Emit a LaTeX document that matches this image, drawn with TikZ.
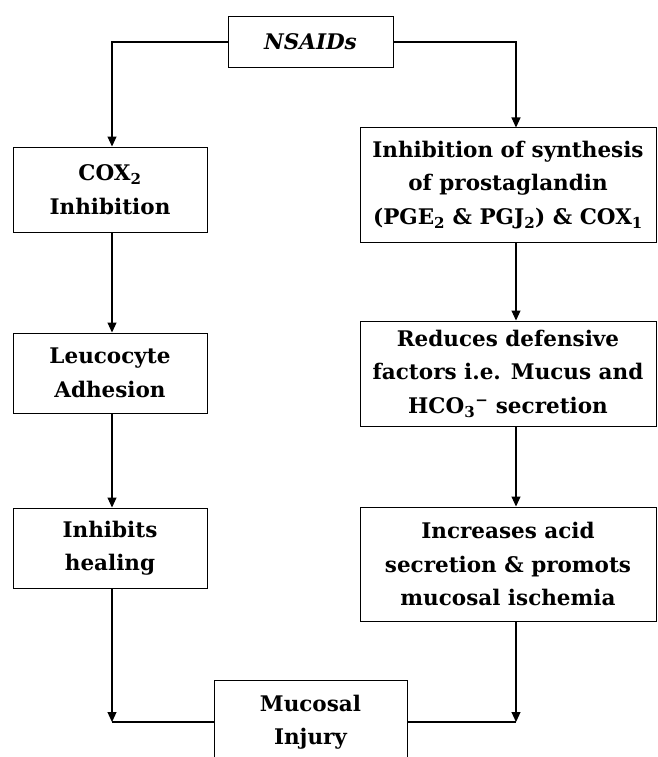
\documentclass[tikz,border=0pt]{standalone}
\usepackage{fontspec}
\setmainfont{DejaVu Serif}
\usetikzlibrary{arrows.meta}
\begin{document}
\begin{tikzpicture}[x=1pt,y=-1pt,
  box/.style={draw, line width=1pt, inner sep=0pt, align=center,
    font=\fontsize{21.5}{33.5}\selectfont\bfseries},
  conn/.style={line width=1.1pt},
  arr/.style={conn, -{Triangle[length=10pt,width=9pt]}}]
\useasboundingbox (0,0) rectangle (657,757);
\clip (0,0) rectangle (657,757);
\fill[white] (0,0) rectangle (657,757);
\coordinate (xl) at (112,0);
\coordinate (xr) at (516,0);
\node[box, minimum width=165pt, minimum height=51pt] (nsaid) at (310.5,42) {\itshape NSAIDs};
\node[box, minimum width=194pt, minimum height=85pt] (cox) at (110,189.5) {COX\textsubscript{2}\\Inhibition};
\node[box, minimum width=194pt, minimum height=80pt] (leu) at (110,373) {Leucocyte\\Adhesion};
\node[box, minimum width=194pt, minimum height=80pt] (heal) at (110,548) {Inhibits\\healing};
\node[box, minimum width=296pt, minimum height=114pt] (inh) at (508,185) {Inhibition of synthesis\\of prostaglandin\\(PGE\textsubscript{2} \& PGJ\textsubscript{2}) \& COX\textsubscript{1}};
\node[box, minimum width=296pt, minimum height=105pt] (red) at (508,373.5) {Reduces defensive\\factors i.e. Mucus and\\HCO\textsubscript{3}\textsuperscript{−} secretion};
\node[box, minimum width=296pt, minimum height=114pt] (acid) at (508,564) {Increases acid\\secretion \& promots\\mucosal ischemia};
\node[box, minimum width=193pt, minimum height=84pt] (inj) at (310.5,722) {Mucosal\\Injury};
\draw[arr] (nsaid.west) -| (xl |- cox.north);
\draw[arr] (nsaid.east) -| (xr |- inh.north);
\draw[arr] (xl |- cox.south) -- (xl |- leu.north);
\draw[arr] (xl |- leu.south) -- (xl |- heal.north);
\draw[arr] (xr |- inh.south) -- (xr |- red.north);
\draw[arr] (xr |- red.south) -- (xr |- acid.north);
\draw[arr] (xl |- heal.south) -- (xl |- inj.west);
\draw[conn] (xl |- inj.west) -- (inj.west);
\draw[arr] (xr |- acid.south) -- (xr |- inj.east);
\draw[conn] (xr |- inj.east) -- (inj.east);
\end{tikzpicture}
\end{document}
